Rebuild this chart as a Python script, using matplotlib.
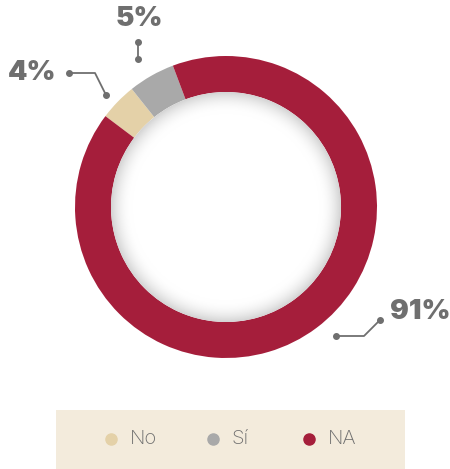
import numpy as np
import matplotlib.pyplot as plt
from matplotlib.patches import Circle, Rectangle

labels = ["No", "Sí", "NA"]
values = [4, 5, 91]
colors = ["#E4D1A8", "#A9A9A9", "#A51E3B"]
pct_labels = ["4%", "5%", "91%"]

W, H = 450, 469
fig = plt.figure(figsize=(W / 100, H / 100), dpi=100)
ax = fig.add_axes([0, 0, 1, 1])

cx, cy = 226, H - 207
r_out, r_in = 151, 115
text_col = "#6F6F6F"

ax.pie(values, colors=colors, startangle=143, counterclock=False,
       radius=r_out, center=(cx, cy), frame=True,
       wedgeprops=dict(width=r_out - r_in, linewidth=0))
ax.set_xlim(0, W)
ax.set_ylim(0, H)
ax.set_aspect("equal")
ax.axis("off")

# inner disc with soft shadow
n = 400
xs = np.linspace(cx - r_in, cx + r_in, n)
ys = np.linspace(cy - r_in, cy + r_in, n)
X, Y = np.meshgrid(xs, ys)
R = np.hypot(X - cx, Y - cy)
t = np.clip((R - 94) / (r_in - 94), 0, 1) ** 2
shade = 1 - 0.17 * t
img = np.dstack([shade, shade, shade])
im = ax.imshow(img, extent=(cx - r_in, cx + r_in, cy - r_in, cy + r_in),
               origin="lower", zorder=3, interpolation="bilinear")
im.set_clip_path(Circle((cx, cy), r_in, transform=ax.transData))

# leader lines
def leader(pts):
    px = [p[0] for p in pts]
    py = [H - p[1] for p in pts]
    ax.plot(px, py, color=text_col, lw=1.3, zorder=4)
    ax.plot([px[0], px[-1]], [py[0], py[-1]], "o", color=text_col,
            ms=4, zorder=4)

leader([(138, 42), (138, 59)])
leader([(69, 73), (95, 73), (106, 95)])
leader([(336, 336), (364, 336), (380, 320)])

fnt = dict(family=["Inter", "DejaVu Sans"], fontweight="black",
           color=text_col, fontsize=20)
ax.text(139, H - 19, pct_labels[1], ha="center", va="center", **fnt)
ax.text(32, H - 73, pct_labels[0], ha="center", va="center", **fnt)
ax.text(420, H - 312, pct_labels[2], ha="center", va="center", **fnt)

# legend box
ax.add_patch(Rectangle((56, 0), 405 - 56, H - 410, facecolor="#F3EBDC",
                       edgecolor="none", zorder=1))
leg_x = [111, 213, 309]
for x, lab, c in zip(leg_x, labels, colors):
    ax.plot(x, H - 439, "o", color=c, ms=8, zorder=2)
    ax.text(x + 19, H - 439, lab, ha="left", va="center", fontsize=14.5,
            family=["Inter", "DejaVu Sans"], fontweight="light",
            color=text_col, zorder=2)

fig.savefig("out.png", dpi=100)
